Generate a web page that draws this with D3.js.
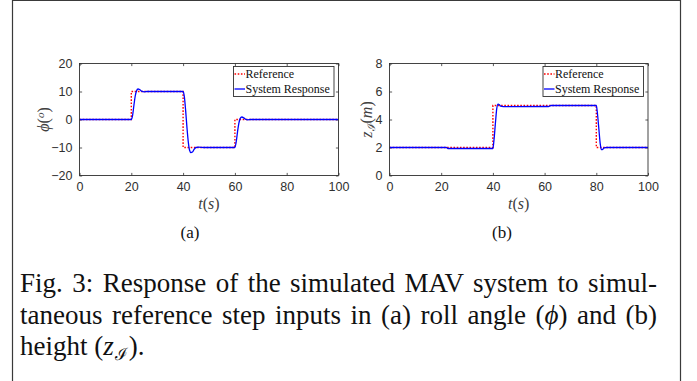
<!DOCTYPE html>
<html>
<head>
<meta charset="utf-8">
<script src="https://cdn.jsdelivr.net/npm/d3@7"></script>
<style>
  body { margin: 0; background: #fff; }
  svg { display: block; }
</style>
</head>
<body>
<svg id="fig" width="697" height="381"></svg>
<script>
// ---- data -------------------------------------------------------------
// roll angle: step reference (breakpoints in s, level in degrees)
const rollRefTime  = [0, 20, 40, 60, 100];
const rollRefValue = [0, 10, -10, 0, 0];
// roll angle: simulated response samples
const rollRespTime  = [0, 20, 20.5, 21, 21.5, 22, 22.6, 23.2, 24, 25, 26, 40,
                       40.5, 41, 41.5, 42, 42.5, 43, 43.6, 44.3, 45, 46, 48, 60,
                       60.5, 61, 61.5, 62, 62.7, 63.4, 64.2, 65, 66, 100];
const rollRespValue = [0, 0, 1.5, 5, 8.3, 10.2, 10.9, 10.7, 10.1, 9.9, 10, 10,
                       8, 3, -3, -8, -11, -11.8, -11.6, -10.6, -10, -9.9, -10, -10,
                       -8, -4.5, -1.5, 0.3, 0.9, 0.6, 0.05, -0.1, 0, 0];
// height: step reference (breakpoints in s, level in m)
const heightRefTime  = [0, 40, 80, 100];
const heightRefValue = [2, 5, 2, 2];
// height: simulated response samples
const heightRespTime  = [0, 22, 22.6, 40, 40.4, 41, 41.5, 42, 42.5, 43, 44, 61.5, 62.5,
                         80, 80.4, 81, 81.5, 82, 82.5, 83, 84, 100];
const heightRespValue = [2, 2, 1.93, 1.93, 2.5, 3.8, 4.8, 5.1, 5.05, 4.95, 4.92, 4.93, 5,
                         5, 4.5, 3.3, 2.3, 1.85, 1.87, 1.97, 2, 2];

const timeTicks   = [0, 20, 40, 60, 80, 100];
const rollTicks   = [-20, -10, 0, 10, 20];
const heightTicks = [0, 2, 4, 6, 8];
const legendLabels = ["Reference", "System Response"];
const panelTags = ["(a)", "(b)"];
const captionLines = [
  [{t: "Fig. 3: Response of the simulated MAV system to simul-"}],
  [{t: "taneous reference step inputs in (a) roll angle ("}, {t: "\u03D5", it: true}, {t: ") and (b)"}],
  [{t: "height ("}, {t: "z", it: true}, {t: "\u2110", sub: true}, {t: ")."}]
];

// ---- page --------------------------------------------------------------
const svg = d3.select("#fig");
const AXIS = "#303030";
const SANS = "'Liberation Sans', Arial, sans-serif";
const SERIF = "'Liberation Serif', 'Times New Roman', serif";
const MATH = "'Liberation Serif', 'DejaVu Serif', serif";

// outer frame of the figure block
svg.append("path")
  .attr("d", "M12.5,384 V0.5 H680.5 V384")
  .attr("fill", "none").attr("stroke", "#3a3a3a").attr("stroke-width", 1.2);

function drawPanel(p) {
  const x = d3.scaleLinear().domain([0, 100]).range([p.x0, p.x1]);
  const y = d3.scaleLinear().domain(p.yDomain).range([p.yBot, p.yTop]);
  const g = svg.append("g");

  // clip for the traces
  const clipId = "clip" + p.tag.replace(/\W/g, "");
  svg.append("clipPath").attr("id", clipId).append("rect")
    .attr("x", p.x0).attr("y", p.yTop).attr("width", p.x1 - p.x0).attr("height", p.yBot - p.yTop);

  const tk = 2.6;
  const styleAxis = sel => {
    sel.select(".domain").remove();
    sel.selectAll(".tick line").attr("stroke", AXIS).attr("stroke-width", 0.8);
    sel.selectAll("text").attr("fill", AXIS).style("font-family", SANS).style("font-size", "12.5px");
  };
  g.append("g").attr("transform", `translate(0,${p.yBot})`)
    .call(d3.axisBottom(x).tickValues(timeTicks).tickSizeInner(-tk).tickSizeOuter(0).tickPadding(7))
    .call(styleAxis);
  g.append("g").attr("transform", `translate(0,${p.yTop})`)
    .call(d3.axisTop(x).tickValues(timeTicks).tickSizeInner(-tk).tickSizeOuter(0).tickFormat(""))
    .call(styleAxis);
  g.append("g").attr("transform", `translate(${p.x0},0)`)
    .call(d3.axisLeft(y).tickValues(p.yTicks).tickSizeInner(-tk).tickSizeOuter(0).tickPadding(7))
    .call(styleAxis);
  g.append("g").attr("transform", `translate(${p.x1},0)`)
    .call(d3.axisRight(y).tickValues(p.yTicks).tickSizeInner(-tk).tickSizeOuter(0).tickFormat(""))
    .call(styleAxis);

  // reference (red dotted) then response (blue) on top
  const refData = p.refT.map((t, i) => [t, p.refV[i]]);
  const respData = p.respT.map((t, i) => [t, p.respV[i]]);
  const traces = g.append("g").attr("clip-path", `url(#${clipId})`);
  traces.append("path").datum(refData)
    .attr("d", d3.line().x(d => x(d[0])).y(d => y(d[1])).curve(d3.curveStepAfter))
    .attr("fill", "none").attr("stroke", "#ff0000").attr("stroke-width", 1.4)
    .attr("stroke-dasharray", "1.6,1.6");
  traces.append("path").datum(respData)
    .attr("d", d3.line().x(d => x(d[0])).y(d => y(d[1])).curve(d3.curveMonotoneX))
    .attr("fill", "none").attr("stroke", "#0000ff").attr("stroke-width", 1.3);

  // axes box
  g.append("rect")
    .attr("x", p.x0).attr("y", p.yTop).attr("width", p.x1 - p.x0).attr("height", p.yBot - p.yTop)
    .attr("fill", "none").attr("stroke", AXIS).attr("stroke-width", 0.9);

  // legend (upper right)
  const lw = 100.5, lh = 30, lx = p.x1 - 4.5 - lw, ly = p.yTop + 3;
  const lg = g.append("g");
  lg.append("rect").attr("x", lx).attr("y", ly).attr("width", lw).attr("height", lh)
    .attr("fill", "#fff").attr("stroke", AXIS).attr("stroke-width", 0.9);
  const entryStyle = [
    {stroke: "#ff0000", dash: "1.6,1.6"},
    {stroke: "#0000ff", dash: null}
  ];
  legendLabels.forEach((lab, i) => {
    const cy = ly + 7.5 + i * 15;
    lg.append("line").attr("x1", lx + 1).attr("x2", lx + 11.5).attr("y1", cy).attr("y2", cy)
      .attr("stroke", entryStyle[i].stroke).attr("stroke-width", 1.3)
      .attr("stroke-dasharray", entryStyle[i].dash);
    lg.append("text").attr("x", lx + 12).attr("y", cy + 4)
      .attr("fill", "#111").style("font-family", SERIF).style("font-size", "12px")
      .text(lab);
  });

  // x label t(s)
  const xl = g.append("text").attr("x", (p.x0 + p.x1) / 2).attr("y", 208.5)
    .attr("text-anchor", "middle").attr("fill", "#404040")
    .style("font-family", MATH).style("font-size", "16px");
  xl.append("tspan").style("font-style", "italic").text("t");
  xl.append("tspan").text("(");
  xl.append("tspan").style("font-style", "italic").text("s");
  xl.append("tspan").text(")");

  // y label
  const yl = g.append("text")
    .attr("transform", `translate(${p.ylx},${(p.yTop + p.yBot) / 2}) rotate(-90)`)
    .attr("text-anchor", "middle").attr("fill", "#404040")
    .style("font-family", MATH).style("font-size", "16px");
  p.yLabel(yl);

  // panel tag
  svg.append("text").attr("x", p.tagX).attr("y", 237.5)
    .attr("text-anchor", "middle").attr("fill", "#111")
    .style("font-family", SERIF).style("font-size", "17px")
    .text(p.tag);
}

drawPanel({
  x0: 79.5, x1: 338.5, yTop: 63.5, yBot: 175.5,
  yDomain: [-20, 20], yTicks: rollTicks,
  refT: rollRefTime, refV: rollRefValue, respT: rollRespTime, respV: rollRespValue,
  ylx: 49, tagX: 190, tag: panelTags[0],
  yLabel: t => {
    t.append("tspan").style("font-style", "italic").text("\u03D5");
    t.append("tspan").text("(");
    t.append("tspan").style("font-style", "italic").style("font-size", "11px").attr("dy", -5).text("o");
    t.append("tspan").attr("dy", 5).text(")");
  }
});

drawPanel({
  x0: 389.5, x1: 648, yTop: 63.5, yBot: 175.5,
  yDomain: [0, 8], yTicks: heightTicks,
  refT: heightRefTime, refV: heightRefValue, respT: heightRespTime, respV: heightRespValue,
  ylx: 372, tagX: 502, tag: panelTags[1],
  yLabel: t => {
    t.append("tspan").style("font-style", "italic").text("z");
    t.append("tspan").style("font-size", "11px").attr("dy", 3).text("\u2110");
    t.append("tspan").attr("dy", -3).text("(");
    t.append("tspan").style("font-style", "italic").text("m");
    t.append("tspan").text(")");
  }
});

// ---- caption (justified lines, last line ragged) ----------------------
const capLeft = 20, capRight = 657, capTop = 292, capStep = 31.5;
captionLines.forEach((segs, li) => {
  const txt = svg.append("text").attr("x", capLeft).attr("y", capTop + li * capStep)
    .attr("fill", "#111").style("font-family", SERIF).style("font-size", "27px");
  segs.forEach(s => {
    const ts = txt.append("tspan").text(s.t);
    if (s.it) ts.style("font-style", "italic").style("font-family", MATH);
    if (s.sub) ts.style("font-size", "17px").attr("dy", 5).attr("dx", 1).style("font-family", "'DejaVu Serif', serif");
    else if (li === 2 && s.t === ").") ts.attr("dy", -5).attr("dx", 1);
  });
  if (li < captionLines.length - 1) {
    const natural = txt.node().getComputedTextLength();
    const spaces = segs.map(s => s.t).join("").split(" ").length - 1;
    txt.style("word-spacing", ((capRight - capLeft - natural) / spaces) + "px");
  }
});
</script>
</body>
</html>
